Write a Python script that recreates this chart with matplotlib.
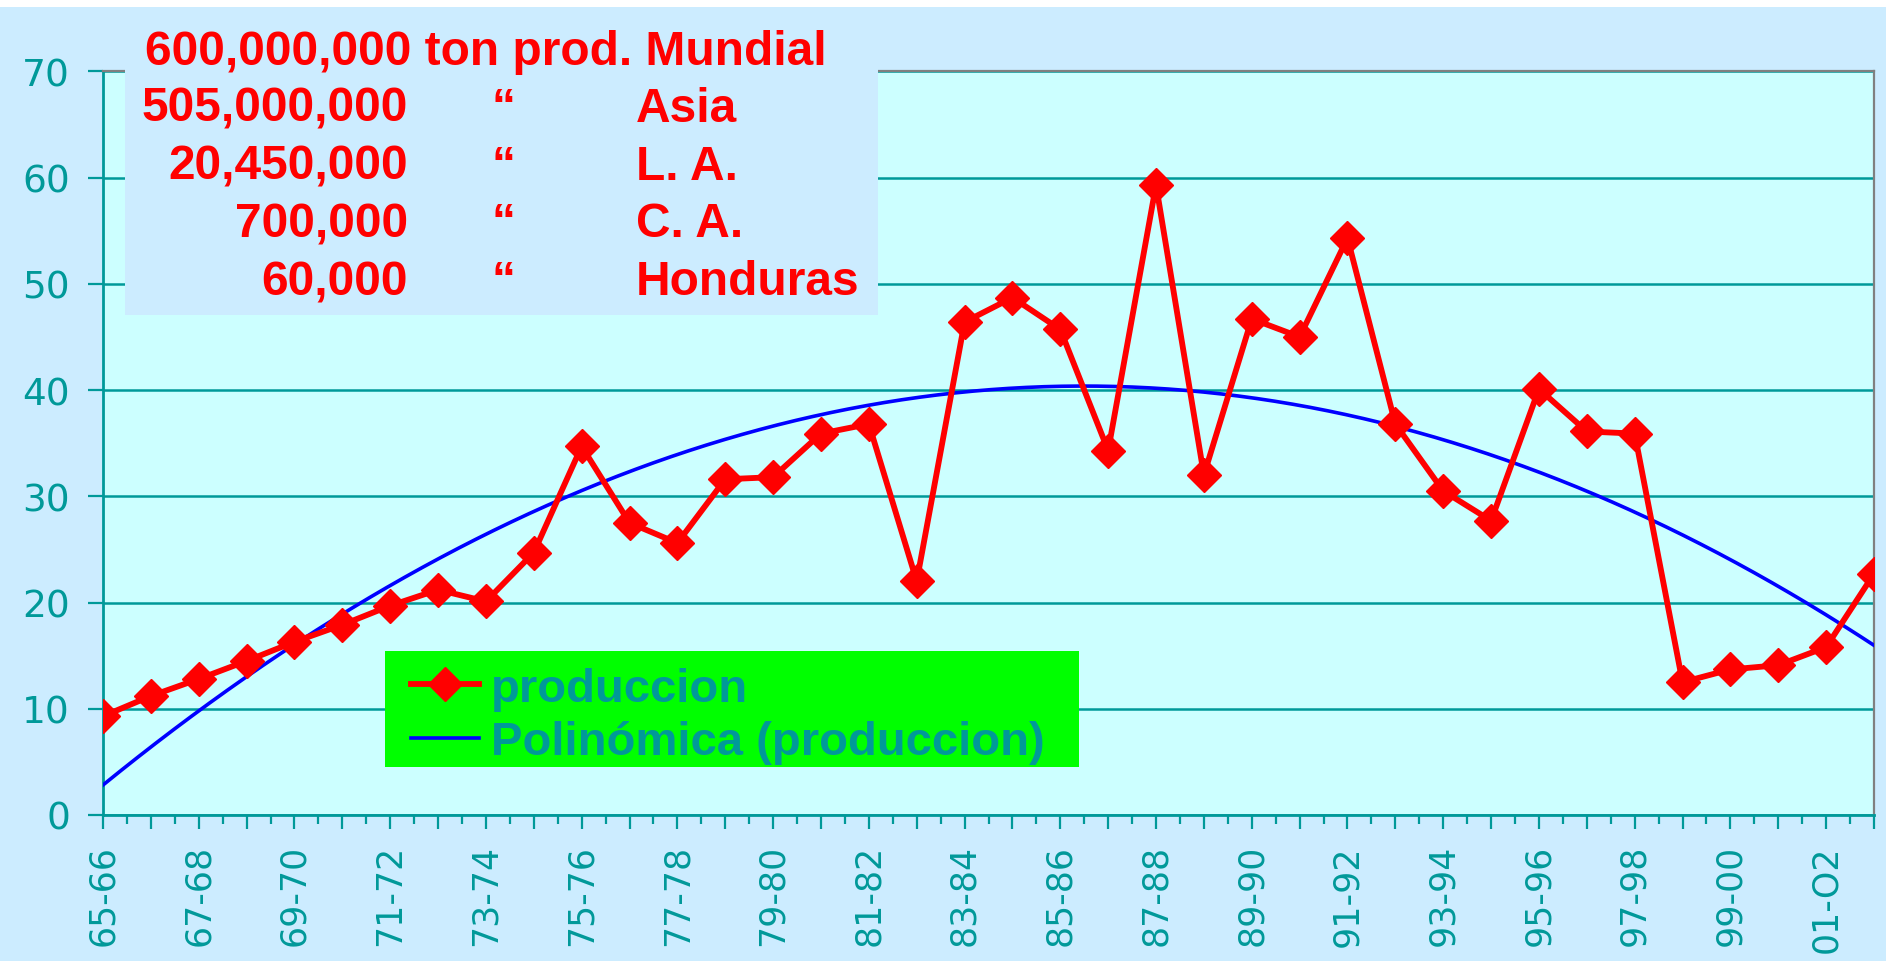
import matplotlib
matplotlib.use("Agg")
import matplotlib.pyplot as plt
from matplotlib.patches import Rectangle
import numpy as np

# seasons 65-66 ... 02-03
seasons = ["65-66", "66-67", "67-68", "68-69", "69-70", "70-71", "71-72", "72-73",
           "73-74", "74-75", "75-76", "76-77", "77-78", "78-79", "79-80", "80-81",
           "81-82", "82-83", "83-84", "84-85", "85-86", "86-87", "87-88", "88-89",
           "89-90", "90-91", "91-92", "92-93", "93-94", "94-95", "95-96", "96-97",
           "97-98", "98-99", "99-00", "00-01", "01-O2", "02-03"]
produccion = [9.3, 11.2, 12.8, 14.5, 16.3, 17.9, 19.7, 21.2,
              20.1, 24.7, 34.7, 27.5, 25.6, 31.6, 31.8, 35.9,
              36.8, 22.0, 46.4, 48.7, 45.7, 34.3, 59.3, 32.0,
              46.7, 45.0, 54.3, 36.8, 30.5, 27.7, 40.1, 36.1,
              35.9, 12.5, 13.7, 14.1, 15.8, 22.7]
trend_order = 2

nota_cantidades = ["505,000,000", "20,450,000", "700,000", "60,000"]
nota_regiones = ["Asia", "L. A.", "C. A.", "Honduras"]
nota_titulo = "600,000,000 ton prod. Mundial"

teal = "#009999"
outer_bg = "#CCECFF"
plot_bg = "#CCFFFF"

W, H = 1886, 962
fig = plt.figure(figsize=(W / 100, H / 100), dpi=100, facecolor=outer_bg)
ax = fig.add_axes([103 / W, (H - 816) / H, (1874 - 103) / W, (816 - 72.3) / H])
ax.set_facecolor(plot_bg)

x = np.arange(len(seasons))
ax.plot(x, produccion, color="red", lw=4.2, marker="D", ms=17, zorder=4,
        label="produccion")

# excel style polynomial trendline
coef = np.polyfit(x, produccion, trend_order)
xf = np.linspace(0, len(seasons) - 1, 400)
ax.plot(xf, np.polyval(coef, xf), color="#0000FF", lw=2.6, zorder=3,
        label="Polinómica (produccion)")

ax.set_xlim(0, len(seasons) - 1)
ax.set_ylim(0, 70)
ax.set_yticks(range(0, 71, 10))
ax.yaxis.grid(True, color=teal, lw=1.8)
ax.set_axisbelow(True)

ax.set_xticks(x)
ax.set_xticklabels([s if i % 2 == 0 else "" for i, s in enumerate(seasons)], rotation=90)
ax.set_xticks(np.arange(0.5, len(seasons) - 1, 1.0), minor=True)

ax.tick_params(axis="x", which="major", length=9.9, width=1.6, color=teal,
               labelcolor=teal, labelsize=25, pad=11)
ax.tick_params(axis="x", which="minor", length=6.5, width=1.6, color=teal)
ax.tick_params(axis="y", length=10.8, width=1.6, color=teal, labelcolor=teal,
               labelsize=27, pad=13)
for lab in ax.get_xticklabels() + ax.get_yticklabels():
    lab.set_family("DejaVu Sans")

for s in ["left", "bottom"]:
    ax.spines[s].set_color(teal)
    ax.spines[s].set_linewidth(2)
for s in ["top", "right"]:
    ax.spines[s].set_color("#808080")
    ax.spines[s].set_linewidth(1.6)

# legend box drawn separately, legend itself without frame
ax.add_patch(Rectangle((385 / W, 1 - 768 / H), (1079 - 385) / W, (768 - 652) / H,
                       transform=fig.transFigure, facecolor="#00FF00",
                       edgecolor="none", zorder=6))
leg = ax.legend(loc="upper left", bbox_to_anchor=(411 / W, 1 - 668 / H),
                bbox_transform=fig.transFigure, borderaxespad=0, borderpad=0,
                prop={"family": "Liberation Sans", "weight": "bold", "size": 34},
                labelcolor=teal, frameon=False, handlelength=1.45,
                handletextpad=0.25, labelspacing=0.2)
leg.set_zorder(7)

# white strip on top and the text box
fig.patches.append(Rectangle((0, 1 - 8 / H), 1, 8 / H, transform=fig.transFigure,
                             facecolor="white", edgecolor="none", zorder=5))
fig.patches.append(Rectangle((125 / W, 1 - 316 / H), (878 - 125) / W, (316 - 8) / H,
                             transform=fig.transFigure, facecolor=outer_bg,
                             edgecolor="none", zorder=5))

font = {"family": "Liberation Sans", "weight": "bold", "size": 34.5, "color": "red"}
fig.text(145 / W, 1 - 65 / H, nota_titulo, ha="left", va="baseline", zorder=6, **font)
for i, (cant, reg) in enumerate(zip(nota_cantidades, nota_regiones)):
    yb = 1 - (122 + i * 57.7) / H
    fig.text(408 / W, yb, cant, ha="right", va="baseline", zorder=6, **font)
    fig.text(503 / W, yb, "\u201c", ha="center", va="baseline", zorder=6, **font)
    fig.text(636 / W, yb, reg, ha="left", va="baseline", zorder=6, **font)

fig.savefig("out.png", dpi=100, facecolor=outer_bg)
